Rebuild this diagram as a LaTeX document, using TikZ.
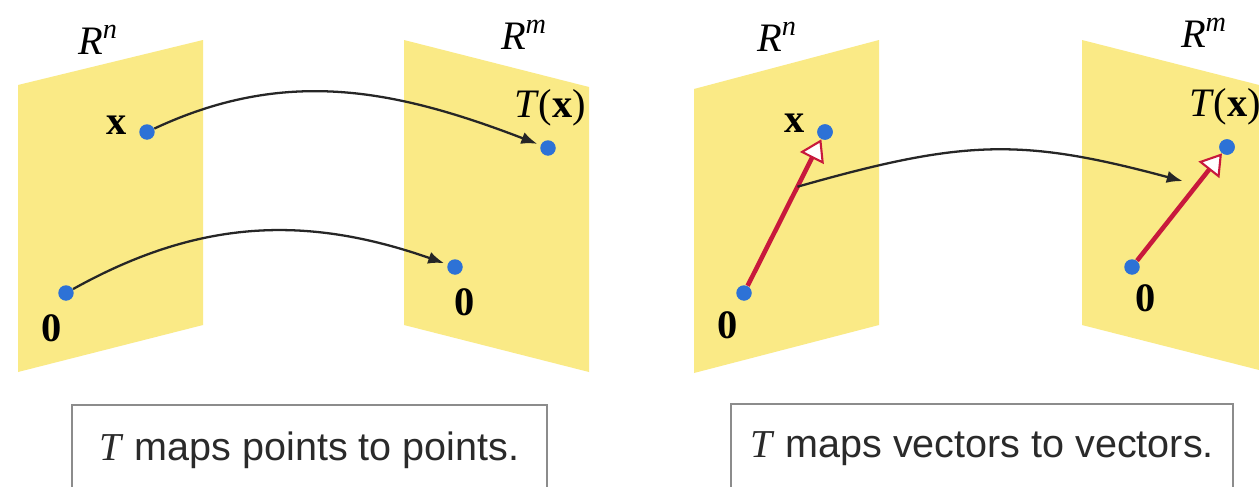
\documentclass[tikz,border=0pt]{standalone}
\usepackage{fontspec}
\setmainfont{Liberation Serif}
\newfontfamily\capfont{Liberation Sans}
\usetikzlibrary{arrows.meta,calc}
\definecolor{PlaneYellow}{HTML}{FAEA86}
\definecolor{DotBlue}   {HTML}{2D72D6}
\definecolor{VecRed}    {HTML}{C8193C}
\definecolor{BoxGray}   {HTML}{8C8C8C}
\definecolor{CapText}   {HTML}{2A2A2A}

\begin{document}
\begin{tikzpicture}[x=0.02cm,y=-0.02cm,
    plane/.style={fill=PlaneYellow},
    pdot/.style={circle,fill=DotBlue,inner sep=0pt,minimum size=0.31cm},
    lbl/.style={font=\fontsize{23}{27}\selectfont,inner sep=0pt},
    maparrow/.style={-{Latex[length=9pt,width=7pt]},line width=1.3pt,black!85,shorten >=2pt},
    vecarrow/.style={-{Triangle[open,length=12pt,width=15pt,line width=1.2pt,fill=white]},line width=2.6pt,VecRed},
    capbox/.style={draw=BoxGray,line width=1.2pt,minimum height=1.8cm,
      font=\capfont\fontsize{22.5}{26}\selectfont,text=CapText}]
    \clip (0,0) rectangle (1259,487);
    \fill[white] (0,0) rectangle (1259,487);
    % Planes, left panel
    \fill[plane] (18,85) -- (203,40) -- (203,325) -- (18,372) -- cycle;
    \fill[plane] (404,40) -- (589,87) -- (589,372) -- (404,325) -- cycle;
    % Planes, right panel
    \fill[plane] (694,89) -- (879,40) -- (879,325) -- (694,373) -- cycle;
    \fill[plane] (1082,40) -- (1267,87) -- (1267,372) -- (1082,325) -- cycle;
    % Space labels
    \node[lbl] (rn1) at (98,40)   {\textit{R}\textsuperscript{\textit{n}}};
    \node[lbl] (rm1) at (524,35)  {\textit{R}\textsuperscript{\textit{m}}};
    \node[lbl] (rn2) at (777,37)  {\textit{R}\textsuperscript{\textit{n}}};
    \node[lbl] (rm2) at (1204,33) {\textit{R}\textsuperscript{\textit{m}}};
    % Points, left panel
    \node[pdot] (x1)  at (147,132) {};
    \node[pdot] (tx1) at (548,148) {};
    \node[pdot] (o1)  at (66,293)  {};
    \node[pdot] (o2)  at (455,267) {};
    \node[lbl] at (117,125) {\textbf{x}};
    \node[lbl] at (550,108) {\textit{T}(\textbf{x})};
    \node[lbl] at (52,328)  {\textbf{0}};
    \node[lbl] at (465,302) {\textbf{0}};
    % Maps, left panel
    \draw[maparrow] (x1) .. controls (284,68) and (392,88) .. (tx1);
    \draw[maparrow] (o1) .. controls (197,220) and (304,214) .. (o2);
    % Vectors, right panel
    \node[pdot] (o3)  at (744,293)  {};
    \node[pdot] (x3)  at (825,132)  {};
    \node[pdot] (o4)  at (1132,267) {};
    \node[pdot] (tx4) at (1227,147) {};
    \draw[vecarrow] (o3) -- (x3);
    \draw[vecarrow] (o4) -- (tx4);
    \node[pdot] at (x3) {};
    \node[pdot] at (tx4) {};
    \node[lbl] at (795,123)  {\textbf{x}};
    \node[lbl] at (1225,107) {\textit{T}(\textbf{x})};
    \node[lbl] at (728,325)  {\textbf{0}};
    \node[lbl] at (1146,298) {\textbf{0}};
    % Map, right panel
    \coordinate (vmid) at ($(o3)!0.66!(x3)$);
    \coordinate (vend) at (1186,182);
    \draw[maparrow] (vmid) .. controls (965,139) and (1022,138) .. (vend);
    % Captions
    \node[capbox,minimum width=9.5cm]  (cap1) at (309.5,450) {\textit{\rmfamily T} maps points to points.};
    \node[capbox,minimum width=10.04cm] (cap2) at (982,449) {\textit{\rmfamily T} maps vectors to vectors.};
\end{tikzpicture}
\end{document}
